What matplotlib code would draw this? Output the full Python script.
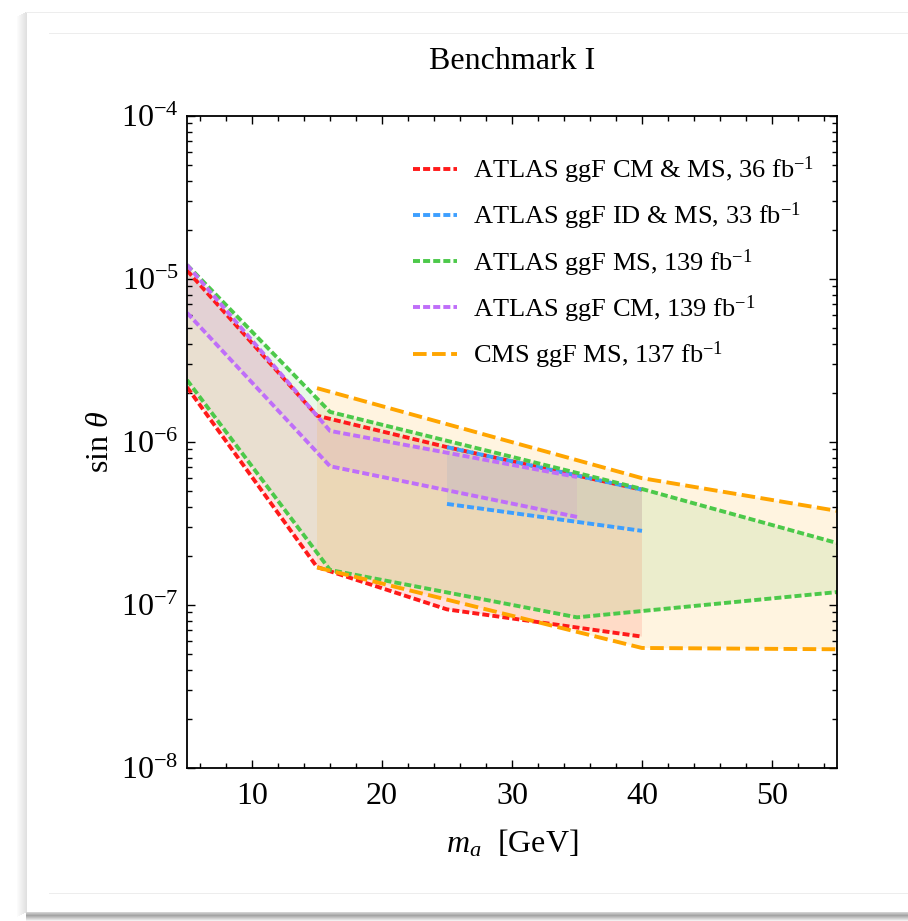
import numpy as np
import matplotlib
matplotlib.use("Agg")
import matplotlib.pyplot as plt
from matplotlib.patches import Rectangle
from matplotlib.lines import Line2D
from matplotlib.ticker import FixedLocator, MultipleLocator, LogLocator, NullFormatter

plt.rcParams['font.family'] = ['Liberation Serif', 'DejaVu Serif']
plt.rcParams['mathtext.fontset'] = 'custom'
plt.rcParams['mathtext.rm'] = 'Liberation Serif'
plt.rcParams['mathtext.it'] = 'Liberation Serif:italic'
plt.rcParams['mathtext.bf'] = 'Liberation Serif:bold'

# ---- data ----
red_x = [5, 15, 25, 40]
red_hi = [1.13e-5, 1.45e-6, 9.3e-7, 5.1e-7]
red_lo = [2.17e-6, 1.71e-7, 9.4e-8, 6.4e-8]

blue_x = [25, 40]
blue_hi = [9.3e-7, 5.1e-7]
blue_lo = [4.17e-7, 2.85e-7]

green_hi_x = [5, 16, 40, 55]
green_hi = [1.22e-5, 1.53e-6, 5.15e-7, 2.4e-7]
green_lo_x = [5, 16, 35, 55]
green_lo = [2.4e-6, 1.64e-7, 8.4e-8, 1.2e-7]

purple_x = [5, 16, 35]
purple_hi = [1.22e-5, 1.17e-6, 6.1e-7]
purple_lo = [6.2e-6, 7.1e-7, 3.47e-7]

orange_x = [15, 40, 55]
orange_hi = [2.14e-6, 6.0e-7, 3.78e-7]
orange_lo = [1.7e-7, 5.45e-8, 5.35e-8]

labels = ['ATLAS ggF CM & MS, 36 fb$^{-1}$',
          'ATLAS ggF ID & MS, 33 fb$^{-1}$',
          'ATLAS ggF MS, 139 fb$^{-1}$',
          'ATLAS ggF CM, 139 fb$^{-1}$',
          'CMS ggF MS, 137 fb$^{-1}$']
colors = ['#ff1a1a', '#3d9fff', '#4cc94a', '#bf6ef9', '#ffa500']

W, H = 908, 921
fig = plt.figure(figsize=(W / 100, H / 100), dpi=100)

# notebook-card look around the plot
def px_rect(x0, y0, w, h, **kw):
    fig.add_artist(Rectangle((x0 / W, 1 - (y0 + h) / H), w / W, h / H,
                             transform=fig.transFigure, linewidth=0, **kw))

for i in range(10):
    px_rect(26 - i, 12 + i * 0.5, 1, 900, color='0.45', alpha=0.22 * (1 - i / 10))
for i in range(9):
    px_rect(26, 912 + i, W - 26, 1, color='0.35', alpha=0.55 * (1 - abs(i - 3) / 6))
px_rect(26, 12, W - 26, 1, color='0.93')
px_rect(49, 33, W - 49, 1, color='0.93')
px_rect(49, 893, W - 49, 1, color='0.93')

ax = fig.add_axes([187 / W, 1 - 768 / H, 650 / W, 652 / H])
ax.set_yscale('log')

def band(xh, yh, xl, yl, c):
    ax.fill(np.concatenate([xh, xl[::-1]]), np.concatenate([yh, yl[::-1]]),
            color=c, alpha=0.12, linewidth=0)

band(red_x, red_hi, red_x, red_lo, colors[0])
band(blue_x, blue_hi, blue_x, blue_lo, colors[1])
band(green_hi_x, green_hi, green_lo_x, green_lo, colors[2])
band(purple_x, purple_hi, purple_x, purple_lo, colors[3])
band(orange_x, orange_hi, orange_x, orange_lo, colors[4])

lw = 2.8
dot = (1.8, 0.8)
dash = (3.5, 1.4)
curves = [
    (red_x, red_hi, red_x, red_lo, dot),
    (blue_x, blue_hi, blue_x, blue_lo, dot),
    (green_hi_x, green_hi, green_lo_x, green_lo, dot),
    (purple_x, purple_hi, purple_x, purple_lo, dot),
    (orange_x, orange_hi, orange_x, orange_lo, dash),
]
handles = []
for (xh, yh, xl, yl, ds), c, lab in zip(curves, colors, labels):
    ax.plot(xh, yh, color=c, lw=lw, dashes=ds, dash_capstyle='butt')
    ax.plot(xl, yl, color=c, lw=lw, dashes=ds, dash_capstyle='butt')
    handles.append(Line2D([], [], color=c, lw=lw, dashes=ds, dash_capstyle='butt', label=lab))

ax.set_xlim(5, 55)
ax.set_ylim(1e-8, 1e-4)
ax.xaxis.set_major_locator(FixedLocator([10, 20, 30, 40, 50]))
ax.xaxis.set_minor_locator(MultipleLocator(2))
ax.yaxis.set_major_locator(LogLocator(base=10, numticks=10))
ax.yaxis.set_minor_locator(LogLocator(base=10, subs=np.arange(2, 10), numticks=20))
ax.yaxis.set_minor_formatter(NullFormatter())
ax.tick_params(which='both', direction='in', top=True, right=True, width=1.0,
               labelsize=23)
ax.tick_params(which='major', length=6)
ax.tick_params(which='minor', length=3.8)
ax.tick_params(axis='x', pad=10)
ax.tick_params(axis='y', pad=6)
for s in ax.spines.values():
    s.set_linewidth(1.3)

ax.set_title('Benchmark I', fontsize=23, pad=34)
ax.set_xlabel('$m_a$  [GeV]', fontsize=23, labelpad=12)
ax.set_ylabel(r'$\mathrm{sin}\ \theta$', fontsize=23, labelpad=4)

ax.legend(handles=handles, loc='upper left', bbox_to_anchor=(0.348, 0.941),
          frameon=False, fontsize=19, handlelength=1.65, handletextpad=0.6,
          labelspacing=0.56, borderpad=0, borderaxespad=0)

fig.savefig('out.png', dpi=100)
